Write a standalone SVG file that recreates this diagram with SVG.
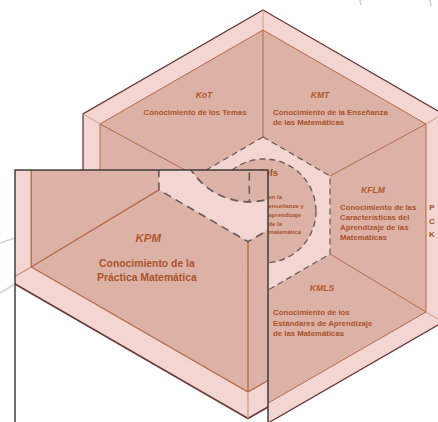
<svg xmlns="http://www.w3.org/2000/svg" xmlns:xlink="http://www.w3.org/1999/xlink" width="438" height="422" viewBox="0 0 438 422">
<defs>
<style>
.outer{fill:#f3d6d2;stroke:#6b3a3a;stroke-width:1.3}
.inner{fill:#ddb2a6;stroke:#b56846;stroke-width:1}
.corner{stroke:#c88b7b;stroke-width:0.8;fill:none}
.central{fill:#f3d6d2;stroke:#6a5858;stroke-width:1.2;stroke-dasharray:6 4}
.div{stroke:#b56846;stroke-width:1;fill:none}
.circ{fill:#ddb2a6;stroke:#6a5858;stroke-width:1.3;stroke-dasharray:6 4}
.dash{stroke:#6a5858;stroke-width:1.2;stroke-dasharray:6 4;fill:none}
.lbl{font-family:"Liberation Sans",Arial,sans-serif;font-weight:bold;font-style:italic;fill:#b0582b;font-size:8.6px}
.txt{font-family:"Liberation Sans",Arial,sans-serif;font-weight:bold;fill:#a9522a;font-size:7.8px}
.small{font-family:"Liberation Sans",Arial,sans-serif;font-weight:bold;fill:#a9522a;font-size:5.9px}
.pck{font-family:"Liberation Sans",Arial,sans-serif;font-weight:bold;fill:#a9522a;font-size:8px}
.wm{stroke:#d2d2d2;stroke-width:1.6;fill:none}
</style>
<clipPath id="lensClip"><rect x="15" y="170" width="253" height="260"/></clipPath>
</defs>
<rect width="438" height="422" fill="#ffffff"/>
<g id="watermark">
<path class="wm" d="M0 243 L15 238"/>
<path class="wm" d="M0 293 L15 284"/>
<path class="wm" d="M360 0 L361 5"/>
<path class="wm" d="M430 0 L431 6"/>
</g>
<g id="hexbase">
<g id="frame">
<polygon class="outer" points="263,10 443,114 443,322 263,426 83,322 83,114"/>
<polygon class="inner" points="263,30 426,124 426,312 263,406 100,312 100,124"/>
<path class="corner" d="M263 10 L263 30 M83 114 L100 124 M443 114 L426 124 M443 322 L426 312 M263 426 L263 406 M83 322 L100 312"/>
</g>
<g id="connectors">
<path class="div" d="M263 137 L263 30 M330 176 L426 124 M330 254 L426 312 M263 293 L263 406 M196 254 L100 312 M196 176 L100 124"/>
</g>
<g id="beliefs-shape">
<polygon class="central" points="263,137 330,176 330,254 263,293 196,254 196,176"/>
<circle class="circ" cx="264" cy="211" r="52"/>
<path class="dash" d="M264 181 L264 263"/>
</g>
<g id="KPM">
<text class="lbl" x="188" y="293" text-anchor="middle">KPM</text>
<text class="txt" x="187" y="312" text-anchor="middle">Conocimiento de la</text>
<text class="txt" x="187" y="322.5" text-anchor="middle">Práctica Matemática</text>
</g>
</g>
<g id="beliefs">
<text x="247" y="176" font-family="Liberation Sans, Arial, sans-serif" font-weight="bold" font-size="9.5" fill="#a9522a">Beliefs</text>
<text class="small" x="268.5" y="199">en la</text>
<text class="small" x="268.5" y="208">enseñanza y</text>
<text class="small" x="268.5" y="216.5">aprendizaje</text>
<text class="small" x="268.5" y="225.5">de la</text>
<text class="small" x="268.5" y="234">matemática</text>
</g>
<g id="KoT">
<text class="lbl" x="204" y="98" text-anchor="middle">KoT</text>
<text class="txt" x="195" y="114.5" text-anchor="middle">Conocimiento de los Temas</text>
</g>
<g id="KMT">
<text class="lbl" x="320" y="98" text-anchor="middle">KMT</text>
<text class="txt" x="273" y="114.5">Conocimiento de la Enseñanza</text>
<text class="txt" x="273" y="125">de las Matemáticas</text>
</g>
<g id="KFLM">
<text class="lbl" x="373" y="193" text-anchor="middle">KFLM</text>
<text class="txt" x="340" y="209.5">Conocimiento de las</text>
<text class="txt" x="340" y="220">Características del</text>
<text class="txt" x="340" y="230">Aprendizaje de las</text>
<text class="txt" x="340" y="239.5">Matemáticas</text>
</g>
<g id="KMLS">
<text class="lbl" x="322" y="291" text-anchor="middle">KMLS</text>
<text class="txt" x="273" y="315">Conocimiento de los</text>
<text class="txt" x="273" y="326">Estándares de Aprendizaje</text>
<text class="txt" x="273" y="336">de las Matemáticas</text>
</g>
<g id="PCK">
<text class="pck" x="432" y="210" text-anchor="middle">P</text>
<text class="pck" x="432" y="224" text-anchor="middle">C</text>
<text class="pck" x="432" y="237" text-anchor="middle">K</text>
</g>
<g id="lens">
<rect x="15" y="170" width="253" height="260" fill="#ffffff"/>
<g clip-path="url(#lensClip)">
<use xlink:href="#hexbase" href="#hexbase" transform="matrix(1.33,0,0,1.33,-101.8,-148)"/>
</g>
<rect x="15" y="170" width="253" height="260" fill="none" stroke="#333333" stroke-width="1.4"/>
</g>
</svg>
